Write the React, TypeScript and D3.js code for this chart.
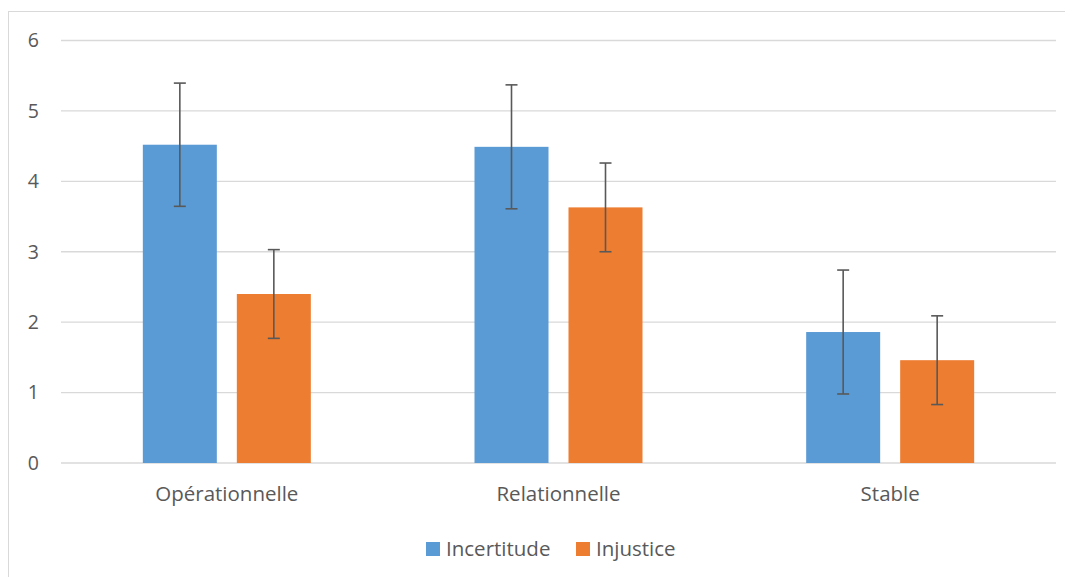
import React from "react";
import * as d3 from "d3";

const categories = ["Opérationnelle", "Relationnelle", "Stable"];
const seriesNames = ["Incertitude", "Injustice"];
const colors = ["#5B9BD5", "#ED7D31"];
const incertitude = [4.52, 4.49, 1.86];
const incertitudeErr = [0.875, 0.88, 0.88];
const injustice = [2.4, 3.63, 1.46];
const injusticeErr = [0.63, 0.63, 0.63];
const yTicks = [0, 1, 2, 3, 4, 5, 6];

const OX = 8, OY = 8;
const W = 1065, H = 569;

export default function App() {
  const x0 = d3.scaleBand().domain(categories).range([61 - OX, 1056 - OX]).paddingInner(0).paddingOuter(0);
  const y = d3.scaleLinear().domain([0, 6]).range([463 - OY, 40.5 - OY]);
  const barW = 74;
  const gap = 20;
  const series = [
    { vals: incertitude, errs: incertitudeErr },
    { vals: injustice, errs: injusticeErr },
  ];
  const font = "'Open Sans', sans-serif";
  return (
    <svg width={W} height={H} style={{ display: "block" }}>
      <rect x={0.5} y={3.5} width={W + 10} height={H + 10} fill="#fff" stroke="#d9d9d9" />
      {yTicks.map((t) => (
        <g key={t}>
          <line x1={x0.range()[0]} x2={x0.range()[1]} y1={y(t)} y2={y(t)} stroke="#d9d9d9" strokeWidth={1.3} />
          <text x={31} y={y(t)} dy="0.35em" textAnchor="end" fontFamily={font} fontSize={19.5} fill="#595959">{t}</text>
        </g>
      ))}
      {categories.map((c, i) => {
        const cx = x0(c)! + x0.bandwidth() / 2;
        return (
          <g key={c}>
            {series.map((s, j) => {
              const bx = cx + (j === 0 ? -gap / 2 - barW : gap / 2);
              const v = s.vals[i];
              const e = s.errs[i];
              const mx = bx + barW / 2;
              return (
                <g key={j}>
                  <rect x={bx} y={y(v)} width={barW} height={y(0) - y(v)} fill={colors[j]} />
                  <line x1={mx} x2={mx} y1={y(v + e)} y2={y(v - e)} stroke="#595959" strokeWidth={1.6} />
                  <line x1={mx - 6} x2={mx + 6} y1={y(v + e)} y2={y(v + e)} stroke="#595959" strokeWidth={1.6} />
                  <line x1={mx - 6} x2={mx + 6} y1={y(v - e)} y2={y(v - e)} stroke="#595959" strokeWidth={1.6} />
                </g>
              );
            })}
            <text x={cx} y={501 - OY} textAnchor="middle" fontFamily={font} fontSize={20.5} fill="#595959">{c}</text>
          </g>
        );
      })}
      {seriesNames.map((n, j) => {
        const lx = (j === 0 ? 426 : 576) - OX;
        return (
          <g key={n}>
            <rect x={lx} y={542 - OY} width={14} height={14} fill={colors[j]} />
            <text x={lx + 20} y={556 - OY} fontFamily={font} fontSize={20.5} fill="#595959">{n}</text>
          </g>
        );
      })}
    </svg>
  );
}
